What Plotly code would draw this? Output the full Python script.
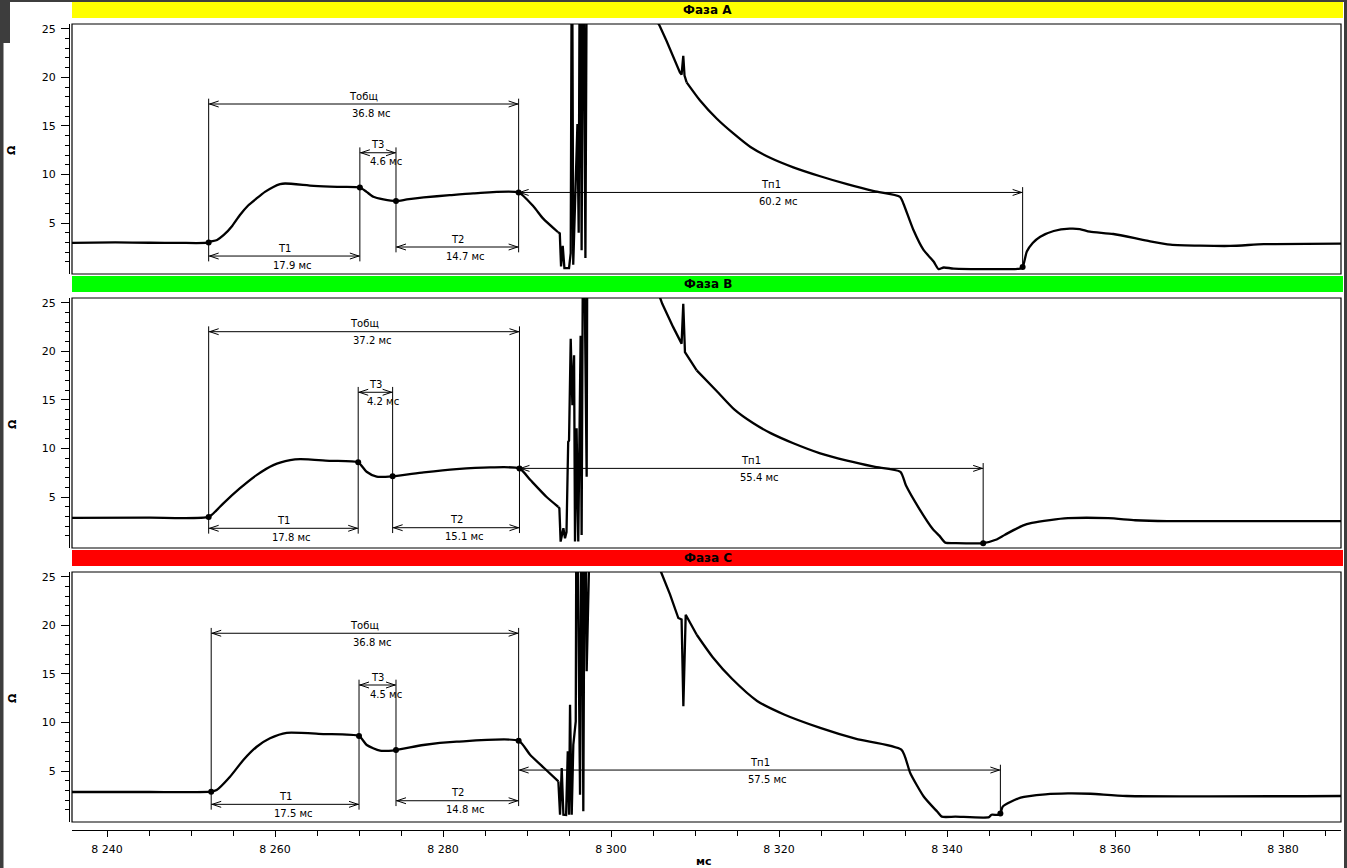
import numpy as np
import plotly.graph_objects as go

# ---------------- data (ms, Ohm) ----------------
t_a = [8235.8, 8241.0, 8245.1, 8248.7, 8252.0, 8252.3, 8253.1, 8253.9, 8254.9, 8255.8,
       8256.8, 8257.8, 8258.8, 8259.8, 8260.6, 8261.2, 8264.6, 8267.4, 8270.1, 8270.9,
       8271.7, 8272.9, 8274.4, 8275.7, 8277.7, 8280.8, 8283.6, 8289.0, 8290.8, 8291.9,
       8293.7, 8293.9, 8294.05, 8294.25, 8294.45, 8295.0, 8295.2, 8295.35, 8295.5, 8295.7,
       8296.0, 8296.15, 8296.3, 8296.5, 8296.7, 8296.95, 8297.15, 8298.0, 8301.0, 8304.0,
       8305.8, 8306.6, 8307.4, 8308.2, 8308.4, 8308.6, 8308.75, 8309.0, 8310.6, 8312.6,
       8314.6, 8316.6, 8319.0, 8321.7, 8324.9, 8328.1, 8331.3, 8334.4, 8334.8, 8336.0,
       8337.2, 8338.4, 8339.0, 8339.6, 8340.8, 8348.7, 8349.0, 8349.5, 8350.2, 8351.1,
       8352.7, 8354.6, 8355.8, 8357.0, 8359.8, 8363.8, 8366.6, 8373.7, 8377.7, 8386.9]
r_a = [2.95, 3.0, 2.97, 2.95, 2.97, 3.08, 3.26, 3.77, 4.7, 5.8,
       6.8, 7.53, 8.21, 8.72, 9.0, 9.07, 8.83, 8.72, 8.66, 8.21,
       7.70, 7.43, 7.26, 7.43, 7.64, 7.87, 8.05, 8.15, 6.67, 5.48,
       4.05, 3.94, 0.52, 2.64, 0.35, 0.35, 1.9, 40.0, 0.7, 7.0,
       15.2, 4.0, 40.0, 2.2, 40.0, 1.4, 40.0, 50.0, 36.0, 28.0,
       25.3, 23.77, 22.06, 20.52, 20.28, 22.23, 20.18, 19.49, 17.62, 15.74,
       14.2, 12.83, 11.70, 10.74, 9.82, 9.0, 8.28, 7.70, 7.02, 4.28,
       2.23, 1.03, 0.25, 0.42, 0.31, 0.31, 0.46, 2.06, 2.95, 3.59,
       4.18, 4.42, 4.38, 4.11, 3.87, 3.18, 2.77, 2.64, 2.82, 2.88]

t_b = [8235.8, 8245.0, 8252.1, 8253.0, 8253.85, 8255.8, 8257.8, 8259.8, 8261.8, 8263.0,
       8266.6, 8269.9, 8270.9, 8272.1, 8274.0, 8277.7, 8281.6, 8285.6, 8289.1, 8290.4,
       8292.3, 8293.7, 8293.85, 8294.0, 8294.33, 8294.52, 8294.7, 8294.9, 8295.0, 8295.2,
       8295.4, 8295.6, 8295.71, 8295.9, 8296.1, 8296.38, 8296.5, 8296.7, 8297.1, 8297.2,
       8298.0, 8302.0, 8305.0, 8306.1, 8307.4, 8308.4, 8308.6, 8308.8, 8310.2, 8312.6,
       8314.7, 8316.9, 8319.0, 8321.7, 8324.9, 8328.1, 8331.3, 8334.45, 8335.1, 8336.7,
       8338.3, 8339.1, 8339.8, 8341.0, 8344.3, 8345.8, 8346.9, 8349.0, 8350.1, 8352.25,
       8354.4, 8359.2, 8362.4, 8366.2, 8386.9]
r_b = [2.85, 2.87, 2.95, 3.6, 4.35, 5.89, 7.26, 8.29, 8.80, 8.91,
       8.73, 8.57, 7.6, 7.09, 7.13, 7.54, 7.88, 8.05, 7.95, 6.75,
       5.03, 4.0, 3.85, 0.41, 1.78, 0.75, 1.4, 10.68, 10.8, 21.3,
       14.46, 19.6, 0.41, 12.08, 0.41, 21.6, 1.1, 40.0, 7.09, 40.0,
       50.0, 35.0, 27.5, 24.9, 22.5, 20.8, 24.9, 19.93, 18.05, 15.9,
       14.0, 12.62, 11.58, 10.54, 9.5, 8.74, 8.12, 7.6, 6.21, 3.79,
       1.71, 1.0, 0.3, 0.25, 0.25, 0.6, 1.12, 2.05, 2.33, 2.63,
       2.82, 2.82, 2.61, 2.51, 2.51]

t_c = [8235.8, 8245.0, 8252.4, 8253.05, 8254.64, 8256.23, 8257.82, 8259.4, 8261.39, 8265.75,
       8270.0, 8270.92, 8272.5, 8274.4, 8277.65, 8281.63, 8289.0, 8290.36, 8292.03, 8293.73,
       8293.93, 8294.13, 8294.33, 8294.65, 8294.85, 8295.0, 8295.12, 8295.32, 8295.51, 8295.8,
       8295.9, 8296.31, 8296.5, 8296.7, 8296.9, 8297.1, 8297.2, 8298.0, 8302.0, 8305.0,
       8306.0, 8307.02, 8308.01, 8308.4, 8308.61, 8308.89, 8310.2, 8312.18, 8314.4, 8317.39,
       8320.6, 8324.9, 8329.19, 8334.56, 8335.63, 8337.24, 8338.85, 8339.38, 8341.0, 8345.0,
       8345.29, 8346.3, 8346.62, 8348.76, 8351.71, 8354.39, 8357.08, 8361.37, 8386.9]
r_c = [2.84, 2.84, 2.87, 3.04, 4.41, 6.13, 7.5, 8.37, 8.94, 8.81,
       8.6, 7.68, 7.09, 7.16, 7.68, 8.02, 8.12, 6.68, 5.31, 3.94,
       0.5, 5.31, 0.5, 0.47, 7.03, 0.5, 11.83, 0.5, 7.71, 10.12,
       40.0, 2.56, 40.0, 0.85, 40.0, 15.27, 40.0, 50.0, 35.0, 27.5,
       25.4, 23.2, 20.76, 20.6, 11.68, 21.1, 19.04, 16.64, 14.5, 12.22,
       10.83, 9.45, 8.31, 7.2, 4.77, 2.35, 0.8, 0.3, 0.3, 0.25,
       0.5, 0.5, 1.33, 2.26, 2.6, 2.7, 2.66, 2.43, 2.43]

# event times: start, end T1, end T3, end Tобщ, end Tп1
ev_a = [8252.1, 8270.1, 8274.4, 8289.0, 8349.0]
ev_b = [8252.1, 8269.9, 8274.0, 8289.1, 8344.3]
ev_c = [8252.4, 8270.0, 8274.4, 8289.0, 8346.35]

phase_names = ["Фаза A", "Фаза B", "Фаза C"]
T_total = [36.8, 37.2, 36.8]
T1_val = [17.9, 17.8, 17.5]
T3_val = [4.6, 4.2, 4.5]
T2_val = [14.7, 15.1, 14.8]
Tp1_val = [60.2, 55.4, 57.5]

x_tickvals = [8240, 8260, 8280, 8300, 8320, 8340, 8360, 8380]
x_ticktext = ["8 240", "8 260", "8 280", "8 300", "8 320", "8 340", "8 360", "8 380"]
y_tickvals = [5, 10, 15, 20, 25]
y_tickvals_minor = [v for v in range(1, 25) if v % 5]
x_minor_vals = list(range(8240, 8390, 5))

# ---------------- layout constants ----------------
W, H = 1347, 868
FONT = "DejaVu Sans"
header_colors = ["#FFFF00", "#00FF00", "#FF0000"]
panel_tops = [24, 298, 572]
panel_h = 250
header_tops = [2, 276, 550]
header_h = 16
plot_left, plot_right = 72, 1341
yaxis_x = 69
xaxis_y = 830
Y_RANGE = [-0.25, 25.5]
X_RANGE = [8235.83, 8386.9]
# window of the switching transient drawn with straight segments
NOISE_WIN = (8293.75, 8309.0)
# dimension line levels (Ohm) per panel
levels = [
    dict(tot=17.26, t3=12.24, t1=1.6, t2=2.53, tp=None),
    dict(tot=22.03, t3=15.79, t1=1.78, t2=1.84, tp=None),
    dict(tot=19.19, t3=13.86, t1=1.57, t2=1.94, tp=5.1),
]
EXT = 0.55


def py(p):
    return 1 - p / H


def pxx(p):
    return p / W


fig = go.Figure()
series = [(t_a, r_a, ev_a), (t_b, r_b, ev_b), (t_c, r_c, ev_c)]
yrefs = ["y", "y2", "y3"]
axis_names = ["yaxis", "yaxis2", "yaxis3"]

annot_font = dict(family=FONT, size=10, color="black")
line_style = dict(color="black", width=1)

layout_axes = {}
for i, (t, r, ev) in enumerate(series):
    yr = yrefs[i]
    ta = np.asarray(t)
    i1 = int(np.searchsorted(ta, NOISE_WIN[0], side="right")) - 1
    i2 = int(np.searchsorted(ta, NOISE_WIN[1], side="left"))
    segments = [(0, i1 + 1, "spline"), (i1, i2 + 1, "linear"), (i2, len(t), "spline")]
    for a, b, shape in segments:
        fig.add_trace(go.Scatter(x=t[a:b], y=r[a:b], mode="lines", xaxis="x", yaxis=yr,
                                 line=dict(color="black", width=2.3, shape=shape,
                                           smoothing=0.6 if shape == "spline" else None),
                                 hoverinfo="skip", showlegend=False))
    ev_y = list(np.interp(ev, t, r))
    fig.add_trace(go.Scatter(x=ev, y=ev_y, mode="markers", xaxis="x", yaxis=yr,
                             marker=dict(color="black", size=6), hoverinfo="skip",
                             showlegend=False))

    top = panel_tops[i]
    layout_axes[axis_names[i]] = dict(
        domain=[py(top + panel_h), py(top)], anchor="free", position=pxx(yaxis_x),
        side="left", range=Y_RANGE, tickmode="array", tickvals=y_tickvals,
        ticks="outside", ticklen=8, tickwidth=1, tickcolor="black",
        showline=True, linecolor="black", linewidth=1, showgrid=False, zeroline=False,
        tickfont=dict(family=FONT, size=11, color="black"), ticklabelstandoff=3,
        minor=dict(tickmode="array", tickvals=y_tickvals_minor, ticks="outside",
                   ticklen=4, tickwidth=1, tickcolor="black", showgrid=False),
        fixedrange=True,
    )

    # frame
    fig.add_shape(type="rect", xref="x domain", yref=f"{yr} domain", x0=0, x1=1, y0=0, y1=1,
                  line=dict(color="black", width=1.2), layer="above")
    # header bar
    ht = header_tops[i]
    fig.add_shape(type="rect", xref="paper", yref="paper", x0=pxx(plot_left), x1=pxx(1343),
                  y0=py(ht + header_h), y1=py(ht), fillcolor=header_colors[i],
                  line=dict(width=0), layer="below")
    fig.add_annotation(xref="paper", yref="paper", x=pxx((plot_left + 1343) / 2),
                       y=py(ht + header_h / 2), text=f"<b>{phase_names[i]}</b>",
                       showarrow=False, font=dict(family=FONT, size=12, color="black"),
                       xanchor="center", yanchor="middle")
    # y-axis title
    fig.add_annotation(xref="paper", yref="paper", x=pxx(12), y=py(top + panel_h / 2 + 1),
                       text="<b>Ω</b>", showarrow=False, textangle=-90,
                       font=dict(family=FONT, size=11, color="black"),
                       xanchor="center", yanchor="middle")

    lv = levels[i]
    t0, t1, t3, tend, tp = ev
    tp_lvl = lv["tp"] if lv["tp"] is not None else float(np.interp(tend, t, r))
    tp_end_val = float(np.interp(tp, t, r))

    def vline(x, ya, yb):
        fig.add_shape(type="line", xref="x", yref=yr, x0=x, x1=x, y0=ya, y1=yb, line=line_style)

    def dim(xa, xb, lvl, name, val):
        fig.add_shape(type="line", xref="x", yref=yr, x0=xa, x1=xb, y0=lvl, y1=lvl,
                      line=line_style)
        for xanc, path in ((xa, "M10,3L1,0L10,-3"), (xb, "M-10,3L-1,0L-10,-3")):
            fig.add_shape(type="path", xref="x", yref=yr, xsizemode="pixel",
                          ysizemode="pixel", xanchor=xanc, yanchor=lvl, path=path,
                          line=line_style)
        xm = (xa + xb) / 2
        fig.add_annotation(x=xm, y=lvl, xref="x", yref=yr, text=name, showarrow=False,
                           yshift=8, font=annot_font, xanchor="center", yanchor="middle")
        fig.add_annotation(x=xm, y=lvl, xref="x", yref=yr, text=f"{val} мс", showarrow=False,
                           yshift=-9, xshift=8, font=annot_font, xanchor="center",
                           yanchor="middle")

    # extension lines
    vline(t0, lv["tot"] + EXT, lv["t1"] - EXT)
    vline(t1, lv["t3"] + EXT, lv["t1"] - EXT)
    vline(t3, lv["t3"] + EXT, lv["t2"] - EXT)
    vline(tend, lv["tot"] + EXT, min(lv["t2"], tp_lvl) - EXT)
    vline(tp, tp_lvl + EXT, tp_end_val)

    dim(t0, tend, lv["tot"], "Тобщ", T_total[i])
    dim(t0, t1, lv["t1"], "T1", T1_val[i])
    dim(t1, t3, lv["t3"], "T3", T3_val[i])
    dim(t3, tend, lv["t2"], "T2", T2_val[i])
    dim(tend, tp, tp_lvl, "Tп1", Tp1_val[i])

# window chrome edges
chrome = "#3d3d3d"
for (x0, x1, y0, y1) in [(0, W, 0, 2), (0, 3.5, 0, H), (0, 10, 0, 43), (1344, W, 0, H)]:
    fig.add_shape(type="rect", xref="paper", yref="paper", x0=pxx(x0), x1=pxx(x1),
                  y0=py(y1), y1=py(y0), fillcolor=chrome, line=dict(width=0), layer="below")

fig.add_annotation(xref="paper", yref="paper", x=pxx(704), y=py(861), text="<b>мс</b>",
                   showarrow=False, font=dict(family=FONT, size=11, color="black"),
                   xanchor="center", yanchor="middle")

fig.update_layout(
    width=W, height=H, autosize=False,
    margin=dict(l=0, r=0, t=0, b=0),
    paper_bgcolor="white", plot_bgcolor="white",
    showlegend=False,
    xaxis=dict(domain=[pxx(plot_left), pxx(plot_right)], anchor="free", position=py(xaxis_y),
               range=X_RANGE, tickmode="array", tickvals=x_tickvals, ticktext=x_ticktext,
               ticks="outside", ticklen=6, tickwidth=1, tickcolor="black",
               showline=True, linecolor="black", linewidth=1, showgrid=False, zeroline=False,
               tickfont=dict(family=FONT, size=11, color="black"), ticklabelstandoff=3,
               minor=dict(tickmode="array", tickvals=x_minor_vals, ticks="outside",
                          ticklen=5, tickwidth=1, tickcolor="black", showgrid=False),
               fixedrange=True),
    **layout_axes,
)

fig.write_html("out.html", include_plotlyjs=True, full_html=True,
               config={"displayModeBar": False, "staticPlot": True},
               post_script="document.body.style.margin='0px';")
